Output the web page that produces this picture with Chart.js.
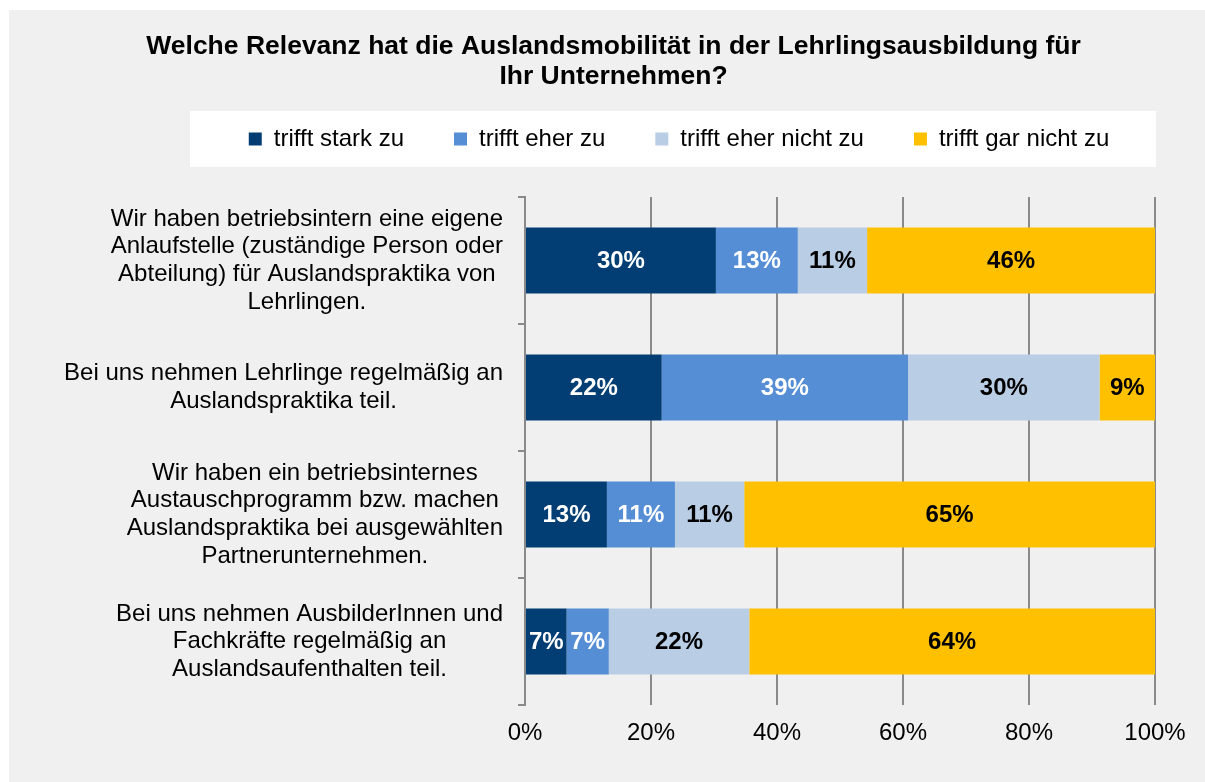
<!DOCTYPE html>
<html>
<head>
<meta charset="utf-8">
<script src="https://cdn.jsdelivr.net/npm/chart.js@4.4.1/dist/chart.umd.min.js"></script>
<style>
    html, body { margin: 0; padding: 0; background: #fff; }
    #wrap { width: 1205px; height: 782px; position: relative; }
</style>
</head>
<body>
<div id="wrap"><canvas id="relevanzchart"></canvas></div>
<script>
// Zeilen (von oben nach unten)
const categories = [
    ['Wir haben betriebsintern eine eigene', 'Anlaufstelle (zuständige Person oder', 'Abteilung) für Auslandspraktika von', 'Lehrlingen.'],
    ['Bei uns nehmen Lehrlinge regelmäßig an', 'Auslandspraktika teil.'],
    ['Wir haben ein betriebsinternes', 'Austauschprogramm bzw. machen', 'Auslandspraktika bei ausgewählten', 'Partnerunternehmen.'],
    ['Bei uns nehmen AusbilderInnen und', 'Fachkräfte regelmäßig an', 'Auslandsaufenthalten teil.']
];
const seriesNames = ['trifft stark zu', 'trifft eher zu', 'trifft eher nicht zu', 'trifft gar nicht zu'];

const starkZu = [30.3, 21.7, 13.0, 6.6];
const eherZu = [13.0, 39.1, 10.8, 6.7];
const eherNichtZu = [11.0, 30.4, 11.0, 22.3];
const garNichtZu = [45.7, 8.8, 65.2, 64.4];

const xTicks = [0, 20, 40, 60, 80, 100];

const colors = ['#023e73', '#558ed5', '#b9cde5', '#ffc000'];
const labelColors = ['#ffffff', '#ffffff', '#000000', '#000000'];

const FONT = '"Liberation Sans", Arial, sans-serif';
Chart.defaults.font.family = FONT;
Chart.defaults.color = '#000';

// grauer Hintergrund + weisser Legendenkasten
const backgroundPlugin = {
    id: 'hintergrund',
    beforeDraw(chart) {
        const ctx = chart.ctx;
        ctx.save();
        ctx.fillStyle = '#ffffff';
        ctx.fillRect(0, 0, chart.width, chart.height);
        ctx.fillStyle = '#f0f0f0';
        ctx.fillRect(9, 10, chart.width - 9, chart.height - 10);
        ctx.fillStyle = '#ffffff';
        ctx.fillRect(190, 111, 966, 56);
        ctx.restore();
    }
};

// Titel und Legende horizontal wie im Original verschieben
const shiftPlugin = {
    id: 'verschieben',
    afterLayout(chart) {
        const t = chart.titleBlock, l = chart.legend;
        let dx = 613.5 - (t.left + t.right) / 2;
        t.left += dx; t.right += dx;
        dx = 679 - (l.left + l.right) / 2;
        l.left += dx; l.right += dx;
    }
};

// Zeilenbeschriftung: Block rechtsbuendig, Zeilen zentriert
const yLabelPlugin = {
    id: 'zeilenbeschriftung',
    afterDraw(chart) {
        const ctx = chart.ctx, y = chart.scales.y;
        const lineH = 27.6;
        ctx.save();
        ctx.font = '24px ' + FONT;
        ctx.fillStyle = '#000';
        ctx.textAlign = 'center';
        ctx.textBaseline = 'middle';
        categories.forEach((lines, i) => {
            const cy = y.getPixelForValue(i);
            const w = Math.max(...lines.map(s => ctx.measureText(s).width));
            const cx = y.right - 22 - w / 2;
            lines.forEach((s, j) => {
                ctx.fillText(s, cx, cy + (j - (lines.length - 1) / 2) * lineH);
            });
        });
        ctx.restore();
    }
};

// Prozentwerte in den Balken
const valueLabelPlugin = {
    id: 'werte',
    afterDatasetsDraw(chart) {
        const ctx = chart.ctx;
        ctx.save();
        ctx.font = 'bold 24px ' + FONT;
        ctx.textAlign = 'center';
        ctx.textBaseline = 'middle';
        chart.data.datasets.forEach((ds, i) => {
            chart.getDatasetMeta(i).data.forEach((bar, j) => {
                ctx.fillStyle = labelColors[i];
                ctx.fillText(Math.round(ds.data[j]) + '%', (bar.x + bar.base) / 2, bar.y + 1);
            });
        });
        ctx.restore();
    }
};

const seriesData = [starkZu, eherZu, eherNichtZu, garNichtZu];

const config = {
    type: 'bar',
    data: {
        labels: categories,
        datasets: seriesData.map((d, i) => ({
            label: seriesNames[i],
            data: d,
            backgroundColor: colors[i],
            borderColor: colors[i],
            borderWidth: 0,
            barPercentage: 0.52,
            categoryPercentage: 1
        }))
    },
    options: {
        indexAxis: 'y',
        responsive: true,
        maintainAspectRatio: false,
        animation: false,
        layout: {
            padding: { top: 10, left: 9, right: 50, bottom: 0 }
        },
        scales: {
            x: {
                stacked: true,
                min: 0,
                max: 100,
                afterBuildTicks: s => { s.ticks = xTicks.map(v => ({ value: v })); },
                ticks: {
                    callback: v => v + '%',
                    font: { size: 24 },
                    color: '#000',
                    padding: 14
                },
                grid: { color: '#8a8a8a', lineWidth: 2, drawTicks: false },
                border: { display: false },
                afterFit: s => { s.height = 77; }
            },
            // leere Achse oben: nur Abstand zwischen Legende und Diagramm
            abstand: {
                type: 'linear',
                position: 'top',
                min: 0,
                max: 100,
                ticks: { display: false },
                grid: { display: false },
                border: { display: false },
                afterFit: s => { s.height = 36; }
            },
            y: {
                stacked: true,
                ticks: { display: false },
                grid: {
                    drawOnChartArea: false,
                    drawTicks: true,
                    tickLength: 7,
                    color: '#8a8a8a',
                    lineWidth: 2
                },
                border: { display: true, color: '#8a8a8a', width: 2 },
                afterFit: s => { s.width = 516; }
            }
        },
        plugins: {
            title: {
                display: true,
                text: ['Welche Relevanz hat die Auslandsmobilität in der Lehrlingsausbildung für', 'Ihr Unternehmen?'],
                font: { size: 26.5, weight: 'bold', lineHeight: 1.132 },
                color: '#000',
                padding: { top: 21.4, bottom: -14.4 }
            },
            legend: {
                position: 'top',
                labels: {
                    boxWidth: 13,
                    boxHeight: 13,
                    padding: 50,
                    font: { size: 24 },
                    color: '#000'
                }
            },
            tooltip: { enabled: false }
        }
    },
    plugins: [backgroundPlugin, shiftPlugin, yLabelPlugin, valueLabelPlugin]
};

var relevanzChart = new Chart(document.getElementById('relevanzchart'), config);
</script>
</body>
</html>
